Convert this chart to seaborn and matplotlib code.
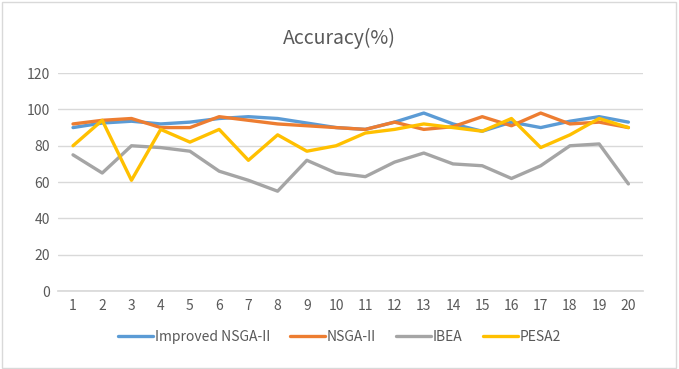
import numpy as np
import pandas as pd
import seaborn as sns
import matplotlib.pyplot as plt
from matplotlib.patches import Rectangle

runs = list(range(1, 21))
improved_nsga2 = [90, 92.5, 93.5, 92, 93, 95, 96, 95, 92.5, 90, 89, 93, 98, 92, 88, 93, 90, 93.5, 96, 93]
nsga2 = [92, 94, 95, 90, 90, 96, 94, 92, 91, 90, 89, 93, 89, 90.5, 96, 91, 98, 92, 93, 90]
ibea = [75, 65, 80, 79, 77, 66, 61, 55, 72, 65, 63, 71, 76, 70, 69, 62, 69, 80, 81, 59]
pesa2 = [80, 94, 61, 89, 82, 89, 72, 86, 77, 80, 87, 89, 92, 90, 88, 95, 79, 86, 95, 90]

names = ["Improved NSGA-II", "NSGA-II", "IBEA", "PESA2"]
colors = ["#5B9BD5", "#ED7D31", "#A5A5A5", "#FFC000"]

frames = []
for name, vals in zip(names, [improved_nsga2, nsga2, ibea, pesa2]):
    frames.append(pd.DataFrame({"run": runs, "acc": vals, "algorithm": name}))
data = pd.concat(frames, ignore_index=True)

sns.set_theme(style="white")
plt.rcParams['font.family'] = ['Noto Sans CJK SC', 'DejaVu Sans']

fig = plt.figure(figsize=(6.79, 3.69), dpi=100)
ax = fig.add_axes([0.086, 0.211, 0.861, 0.591])

sns.lineplot(data=data, x="run", y="acc", hue="algorithm", hue_order=names,
             palette=colors, linewidth=2.4, ax=ax, legend=False)

ax.set_xlim(0.5, 20.5)
ax.set_ylim(0, 120)
ax.set_xticks(runs)
ax.set_yticks(range(0, 121, 20))
ax.tick_params(axis='both', length=0, labelsize=10, labelcolor="#595959", pad=6)
ax.yaxis.grid(True, color="#D9D9D9", linewidth=1)
ax.set_axisbelow(True)
for s in ["top", "right", "left"]:
    ax.spines[s].set_visible(False)
ax.spines["bottom"].set_color("#D9D9D9")
ax.set(xlabel=None, ylabel=None)

fig.text(0.5, 0.895, "Accuracy(%)", ha="center", va="center", fontsize=14, color="#595959")

handles = [plt.Line2D([0], [0], color=c, linewidth=2.4) for c in colors]
fig.legend(handles, names, loc="center", bbox_to_anchor=(0.5, 0.087), ncol=4, frameon=False,
           fontsize=10, handlelength=2.5, handletextpad=0.15, columnspacing=1.45,
           labelcolor="#595959")

fig.patches.append(Rectangle((0.003, 0.004), 0.992, 0.99, transform=fig.transFigure,
                             fill=False, edgecolor="#D9D9D9", linewidth=1))

fig.savefig("out.png", dpi=100)
